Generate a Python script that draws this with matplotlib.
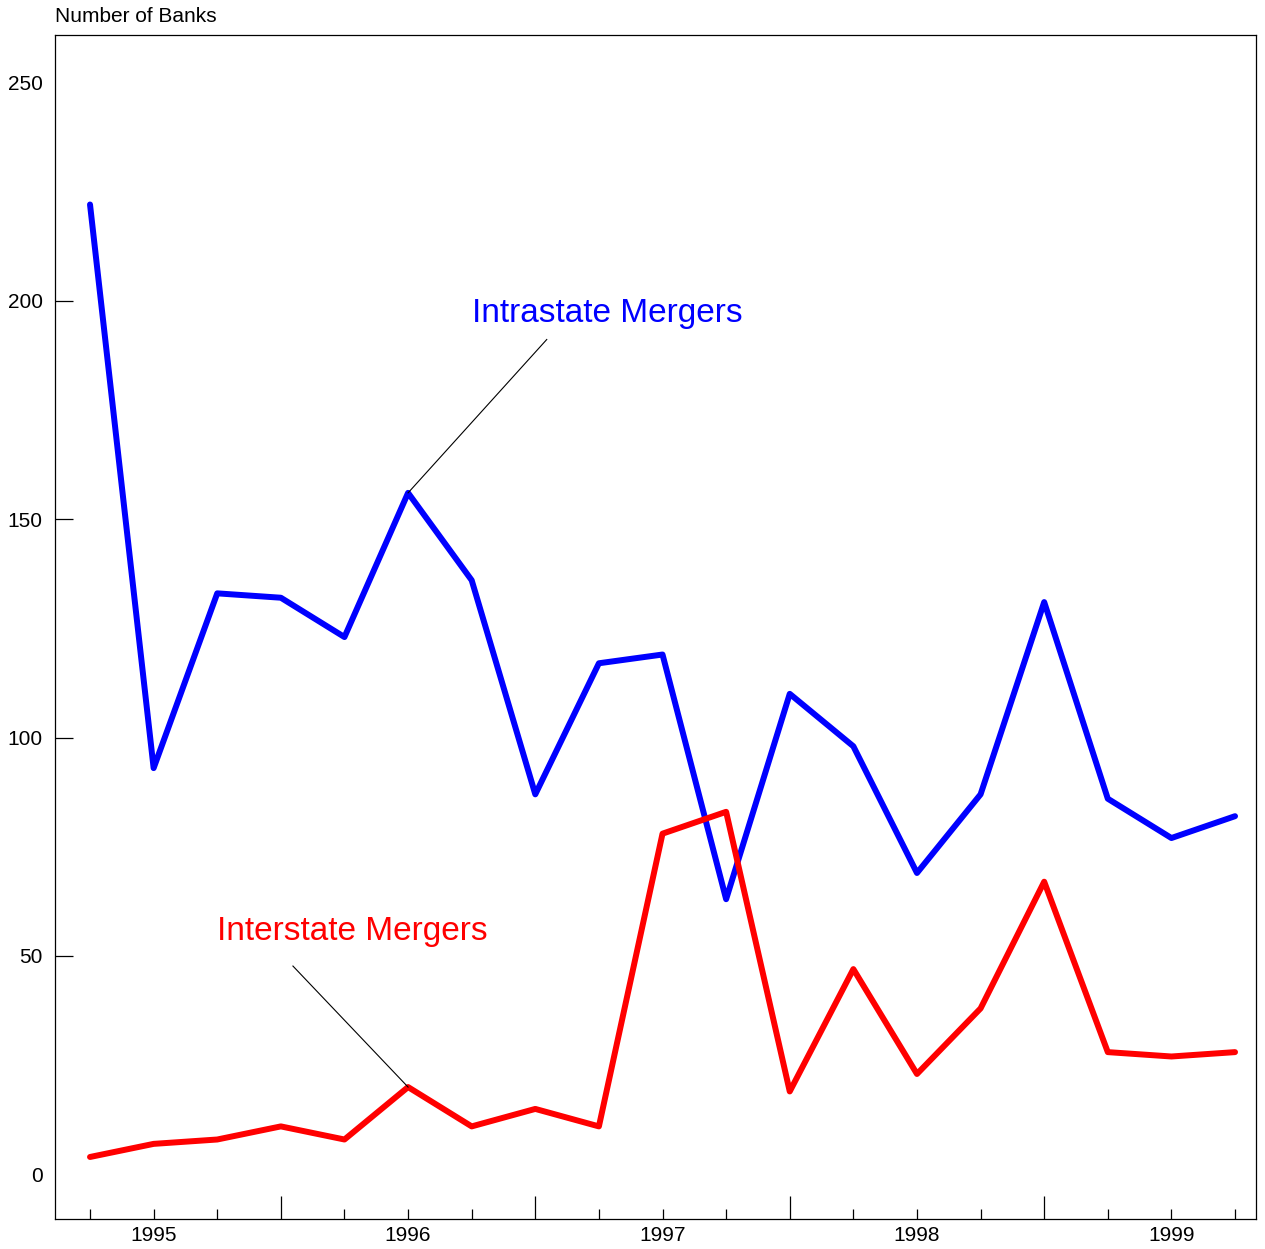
import numpy as np
import matplotlib
matplotlib.use("Agg")
import matplotlib.pyplot as plt

plt.rcParams['font.family'] = ['Liberation Sans', 'DejaVu Sans']

# quarterly counts, starting one quarter before the 1995 label
intrastate = [222, 93, 133, 132, 123, 156, 136, 87, 117, 119,
              63, 110, 98, 69, 87, 131, 86, 77, 82]
interstate = [4, 7, 8, 11, 8, 20, 11, 15, 11, 78,
              83, 19, 47, 23, 38, 67, 28, 27, 28]
year_labels = ["1995", "1996", "1997", "1998", "1999"]
year_label_pos = [1, 5, 9, 13, 17]
year_break_pos = [3, 7, 11, 15]
y_ticks = [0, 50, 100, 150, 200, 250]

x = np.arange(len(intrastate))

fig = plt.figure(figsize=(12.65, 12.49), dpi=100)
ax = fig.add_axes([0.0435, 0.024, 0.9494, 0.948])

ax.plot(x, intrastate, color="#0000ff", lw=4.3,
        solid_capstyle="round", solid_joinstyle="round")
ax.plot(x, interstate, color="#ff0000", lw=4.3,
        solid_capstyle="round", solid_joinstyle="round")

ax.set_xlim(-0.55, 18.33)
ax.set_ylim(-10.2, 260.8)

# short quarter ticks (labels at year positions), long ticks at year breaks
short_pos = [i for i in x if i not in year_break_pos]
ax.set_xticks(short_pos)
ax.set_xticklabels([year_labels[year_label_pos.index(i)] if i in year_label_pos else ""
                    for i in short_pos])
ax.set_xticks(year_break_pos, minor=True)
ax.tick_params(axis="x", which="major", direction="in", length=7.2, width=0.9,
               labelsize=15, pad=5)
ax.tick_params(axis="x", which="minor", direction="in", length=16.5, width=0.9)

ax.set_yticks(y_ticks)
ax.tick_params(axis="y", direction="in", length=13, width=0.9, labelsize=15, pad=9)
yt = ax.yaxis.get_major_ticks()
yt[0].tick1line.set_visible(False)
yt[-1].tick1line.set_visible(False)

for s in ax.spines.values():
    s.set_linewidth(0.9)

fig.text(55 / 1265, 1 - 16 / 1249, "Number of Banks", fontsize=15,
         ha="left", va="center")

# annotations
ax.plot([5, 7.18], [intrastate[5], 191.1], color="black", lw=0.8)
ax.text(6.0, 197.0, "Intrastate Mergers", color="#0000ff", fontsize=24,
        ha="left", va="center")
ax.plot([3.19, 5], [47.7, interstate[5]], color="black", lw=0.8)
ax.text(2.0, 55.6, "Interstate Mergers", color="#ff0000", fontsize=24,
        ha="left", va="center")

fig.savefig("out.png", dpi=100)
